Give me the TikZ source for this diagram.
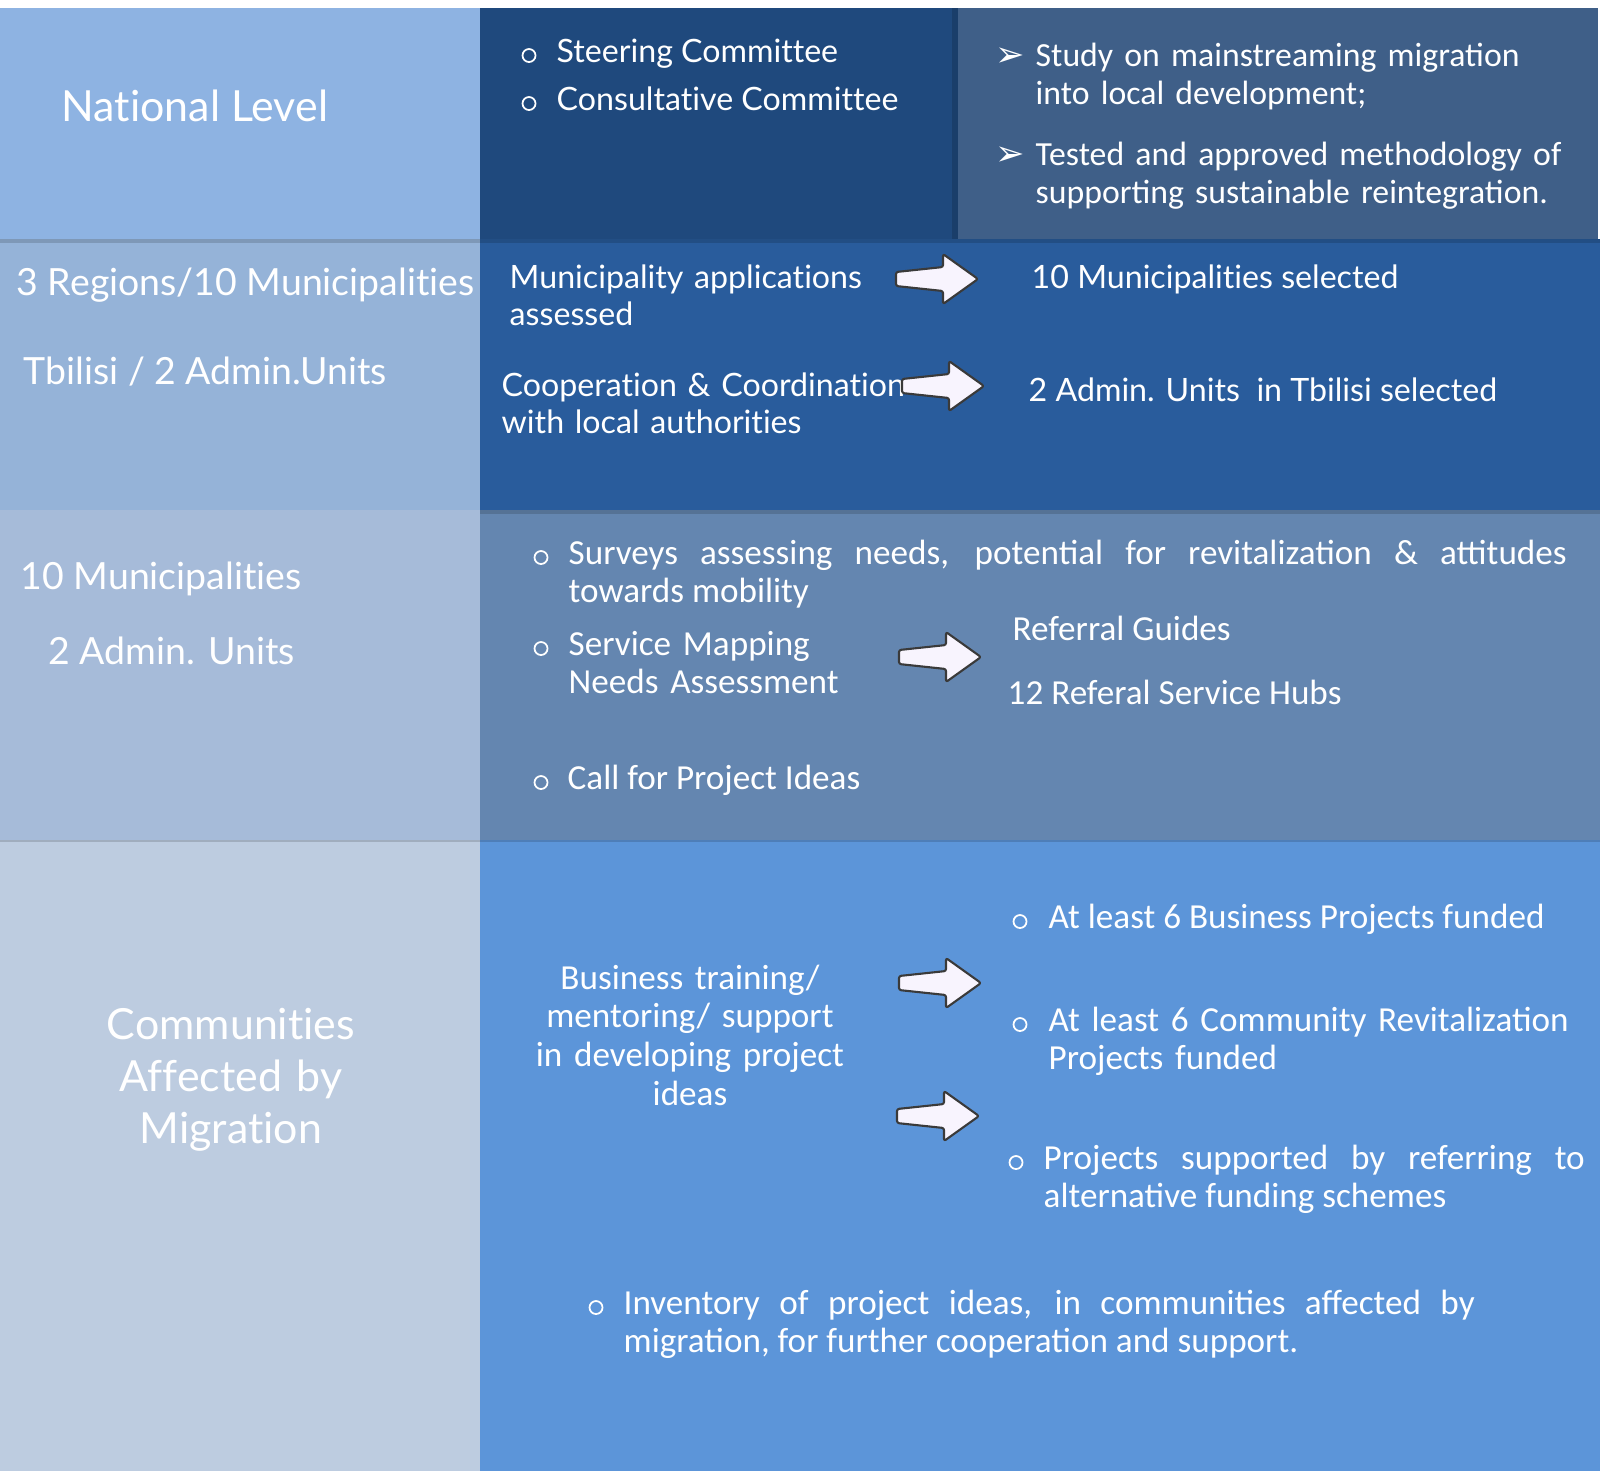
\documentclass[tikz,border=0pt]{standalone}
\usepackage{fontspec}
\setmainfont{Lato}[Ligatures=NoCommon]
\newfontfamily\carlito{Carlito}
\newfontfamily\dingfont{DejaVu Sans}

\definecolor{natleft}{HTML}{8EB3E2}
\definecolor{natmid}{HTML}{1F497D}
\definecolor{natright}{HTML}{3F5F88}
\definecolor{regleft}{HTML}{95B3D8}
\definecolor{regright}{HTML}{295C9C}
\definecolor{munleft}{HTML}{A6BBD9}
\definecolor{munright}{HTML}{6486B0}
\definecolor{comleft}{HTML}{BDCCE0}
\definecolor{comright}{HTML}{5C95D9}
\definecolor{arrowfill}{HTML}{F8F4FE}
\definecolor{arrowedge}{HTML}{3A3A3A}

\tikzset{
  headtxt/.style={text=white, inner sep=0pt, anchor=base west, font=\fontsize{12.2}{14.8}\selectfont},
  lefttxt/.style={text=white, inner sep=0pt, anchor=base west, font=\fontsize{10.65}{13}\selectfont},
  bodytxt/.style={text=white, inner sep=0pt, anchor=base west, align=left, font=\fontsize{9.15}{10.6}\selectfont},
  cbtxt/.style={text=white, inner sep=0pt, anchor=base west, align=left, font=\carlito\fontsize{10}{11}\selectfont},
  studytxt/.style={cbtxt, font=\carlito\fontsize{9.6}{11}\selectfont},
  dot/.style={circle, draw=white, line width=0.5pt, inner sep=0pt, minimum size=0.13cm},
  ding/.style={text=white, inner sep=0pt, anchor=base, font=\dingfont\fontsize{10}{10}\selectfont},
  shade/.style={black, opacity=0.15},
  fatarrow/.pic={
    \draw[fill=arrowfill, draw=arrowedge, line width=0.6pt, line join=round, rounded corners=0.6pt]
      (-0.41,0.07) -- (0.06,0.12) -- (0.06,0.25) -- (0.41,0) -- (0.06,-0.25) -- (0.06,-0.12) -- (-0.41,-0.07) -- cycle;
  }
}

\begin{document}
\begin{tikzpicture}
\useasboundingbox (0,0) rectangle (16,-14.71);
\fill[white] (0,0) rectangle (16,-14.71);

\fill[natleft] (0,-0.08) rectangle (4.8,-2.39);
\fill[natmid] (4.8,-0.08) rectangle (9.58,-2.39);
\fill[natright] (9.58,-0.08) rectangle (15.98,-2.39);
\fill[regleft] (0,-2.39) rectangle (4.8,-5.10);
\fill[regright] (4.8,-2.39) rectangle (16,-5.10);
\fill[munleft] (0,-5.10) rectangle (4.8,-8.40);
\fill[munright] (4.8,-5.10) rectangle (16,-8.40);
\fill[comleft] (0,-8.40) rectangle (4.8,-14.71);
\fill[comright] (4.8,-8.40) rectangle (16,-14.71);

\fill[shade] (0,-2.39) rectangle (16,-2.43);
\fill[shade] (4.8,-5.10) rectangle (16,-5.14);
\fill[shade] (0,-8.40) rectangle (16,-8.42);
\fill[shade] (9.52,-0.08) rectangle (9.58,-2.39);

\node[headtxt] (national) at (0.61,-1.21) {National Level};
\node[dot] (d1) at (5.29,-0.555) {};
\node[bodytxt] (steer) at (5.56,-0.62) {Steering Committee};
\node[dot] (d2) at (5.29,-1.035) {};
\node[bodytxt] (consult) at (5.56,-1.10) {Consultative Committee};
\node[ding] (p1) at (10.10,-0.66) {➢};
\node[studytxt, text width=5.6cm] (study) at (10.35,-0.66) {Study on mainstreaming migration\\ into local development;};
\node[ding] (p2) at (10.10,-1.65) {➢};
\node[studytxt, text width=5.6cm] (tested) at (10.35,-1.65) {Tested and approved methodology of\\ supporting sustainable reintegration.};

\node[lefttxt] (regions) at (0.16,-2.95) {3 Regions/10 Municipalities};
\node[lefttxt] (tbilisi) at (0.23,-3.84) {Tbilisi / 2 Admin.Units};
\node[bodytxt, text width=4cm] (assessed) at (5.09,-2.88) {Municipality applications\\ assessed};
\pic (a1) at (9.37,-2.79) {fatarrow};
\node[bodytxt] (selected) at (10.31,-2.88) {10 Municipalities selected};
\node[bodytxt, text width=4.2cm] (coop) at (5.01,-3.96) {Cooperation \& Coordination\\ with local authorities};
\pic (a2) at (9.43,-3.86) {fatarrow};
\node[bodytxt] (units) at (10.28,-4.01) {2 Admin. Units\ \ in Tbilisi selected};

\node[lefttxt] (munis) at (0.20,-5.89) {10 Municipalities};
\node[lefttxt] (admin) at (0.48,-6.64) {2 Admin. Units};
\node[dot] (d3) at (5.41,-5.575) {};
\node[cbtxt, text width=9.98cm, align=justify] (surveys) at (5.68,-5.64) {Surveys assessing needs, potential for revitalization \& attitudes\linebreak towards mobility};
\node[dot] (d4) at (5.41,-6.485) {};
\node[cbtxt, text width=3cm] (mapping) at (5.68,-6.55) {Service Mapping\\ Needs Assessment};
\pic (a3) at (9.40,-6.57) {fatarrow};
\node[cbtxt] (guides) at (10.12,-6.40) {Referral Guides};
\node[cbtxt] (hubs) at (10.07,-7.04) {12 Referal Service Hubs};
\node[dot] (d5) at (5.41,-7.825) {};
\node[cbtxt] (call) at (5.67,-7.89) {Call for Project Ideas};

\node[headtxt, anchor=base, text width=4cm, align=center] (communities) at (2.31,-10.39) {Communities\\ Affected by\\ Migration};
\node[cbtxt, anchor=base, text width=3.4cm, align=center] (training) at (6.90,-9.89) {Business training/\\ mentoring/ support\\ in developing project\\ ideas};
\pic (a4) at (9.40,-9.83) {fatarrow};
\pic (a5) at (9.38,-11.16) {fatarrow};
\node[dot] (d6) at (10.20,-9.215) {};
\node[cbtxt] (business) at (10.48,-9.28) {At least 6 Business Projects funded};
\node[dot] (d7) at (10.20,-10.245) {};
\node[cbtxt, text width=5.2cm] (revital) at (10.48,-10.31) {At least 6 Community Revitalization\\ Projects funded};
\node[dot] (d8) at (10.16,-11.625) {};
\node[cbtxt, text width=5.41cm, align=justify] (referring) at (10.43,-11.69) {Projects supported by referring to\linebreak alternative funding schemes};
\node[dot] (d9) at (5.96,-13.075) {};
\node[cbtxt, text width=8.51cm, align=justify] (inventory) at (6.23,-13.14) {Inventory of project ideas, in communities affected by\linebreak migration, for further cooperation and support.};

\end{tikzpicture}
\end{document}
